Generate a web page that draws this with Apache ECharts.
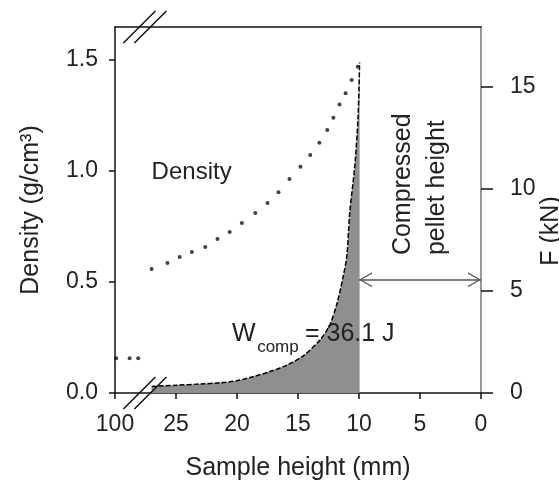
<!DOCTYPE html>
<html>
<head lang="en">
    <meta charset="UTF-8">
    <title>Compression curve</title>
    <style>
        html, body {margin:0; padding:0; background:#fff;}
        #main {width:559px; height:486px;}
    </style>
</head>
<body>
<div id="main"></div>

<script src="https://cdn.jsdelivr.net/npm/echarts@6/dist/echarts.min.js"></script>
<script>
    // sample height (mm) -> density (g/cm3), dots.
    // the x axis is cut: axis value 30 stands for 100 mm (left of the break)
    var densityH = [29.9, 28.8, 28.1,
        27.0, 25.7, 24.7, 23.7, 22.6, 21.6, 20.6, 19.6, 18.5, 17.5, 16.6,
        15.7, 14.8, 14.0, 13.25, 12.6, 12.1, 11.6, 11.1, 10.6, 10.1];
    var densityVal = [0.157, 0.157, 0.157,
        0.559, 0.586, 0.613, 0.635, 0.658, 0.694, 0.725, 0.766, 0.811, 0.856, 0.905,
        0.964, 1.019, 1.072, 1.128, 1.185, 1.24, 1.30, 1.35, 1.41, 1.47];

    // sample height (mm) -> compression force F (kN)
    var forceH = [27.0, 25.0, 23.0, 21.4, 20.0, 18.7, 17.3, 15.9, 14.6, 13.2,
        12.4, 11.8, 11.3, 11.0, 10.75, 10.35, 10.08, 9.95];
    var forceVal = [0.32, 0.38, 0.44, 0.50, 0.60, 0.80, 1.05, 1.37, 1.81, 2.60,
        3.33, 4.40, 5.70, 6.70, 8.9, 11.1, 13.5, 16.2];

    var xTicks = [0, 5, 10, 15, 20, 25, 30];
    var xTickText = ['0', '5', '10', '15', '20', '25', '100'];
    var densityTicks = [0, 0.5, 1.0, 1.5];
    var forceTicks = [0, 5, 10, 15];
    var pelletH = 10;      // compressed pellet height (mm)
    var workText = '= 36.1 J';

    var font = '"Liberation Sans", Arial, Helvetica, sans-serif';
    var ink = '#222';
    // open arrow head, tip sits on the centre of the symbol box
    var chevron = 'path://M5,-10 L5.01,-10 Z M0,10 L5,0 L10,10 L9,10 L5,1.8 L1,10 Z';

    function pairs(xs, ys) {
        var out = [];
        for (var i = 0; i < xs.length; i++) out.push([xs[i], ys[i]]);
        return out;
    }

    var myChart = echarts.init(document.getElementById('main'));

    var option = {
        backgroundColor: '#fff',
        animation: false,
        grid: {left: 115, right: 78, top: 27, bottom: 93, outerBoundsMode: 'none', containLabel: false},
        xAxis: [{
            type: 'value',
            inverse: true,
            min: 0,
            max: 30,
            name: 'Sample height (mm)',
            nameLocation: 'middle',
            nameGap: 63,
            nameMoveOverlap: false,
            nameTextStyle: {fontFamily: font, fontSize: 25, color: ink},
            axisLine: {onZero: false, lineStyle: {color: '#111', width: 1.5}},
            axisTick: {customValues: xTicks, length: 6, lineStyle: {color: '#111', width: 1.5}},
            axisLabel: {
                customValues: xTicks,
                margin: 20,
                fontFamily: font, fontSize: 23, color: ink,
                formatter: function (v) { return xTickText[xTicks.indexOf(v)]; }
            },
            splitLine: {show: false}
        }, {
            type: 'value',
            position: 'top',
            inverse: true,
            min: 0,
            max: 30,
            axisLine: {show: true, onZero: false, lineStyle: {color: '#111', width: 1.5}},
            axisTick: {show: false},
            axisLabel: {show: false},
            splitLine: {show: false}
        }],
        yAxis: [{
            type: 'value',
            position: 'left',
            min: 0,
            max: 1.649,
            name: 'Density (g/cm³)',
            nameLocation: 'middle',
            nameRotate: 90,
            nameGap: 71,
            nameMoveOverlap: false,
            nameTextStyle: {fontFamily: font, fontSize: 25, color: ink},
            axisLine: {show: true, onZero: false, lineStyle: {color: '#111', width: 1.5}},
            axisTick: {customValues: densityTicks, length: 6, lineStyle: {color: '#111', width: 1.5}},
            axisLabel: {
                customValues: densityTicks,
                margin: 17,
                fontFamily: font, fontSize: 23, color: ink,
                formatter: function (v) { return v.toFixed(1); }
            },
            splitLine: {show: false}
        }, {
            type: 'value',
            position: 'right',
            min: 0,
            max: 17.94,
            name: 'F (kN)',
            nameLocation: 'middle',
            nameRotate: 90,
            nameGap: 58,
            nameMoveOverlap: false,
            nameTextStyle: {fontFamily: font, fontSize: 25, color: ink, padding: [0, 42, 0, 0]},
            axisLine: {show: true, onZero: false, lineStyle: {color: '#777', width: 1.5}},
            axisTick: {show: true, customValues: forceTicks, length: 12, lineStyle: {color: '#111', width: 1.5}},
            axisLabel: {
                customValues: forceTicks,
                margin: 29,
                fontFamily: font, fontSize: 23, color: ink
            },
            splitLine: {show: false}
        }],
        series: [{
            name: 'F',
            type: 'line',
            yAxisIndex: 1,
            data: pairs(forceH, forceVal),
            smooth: 0.3,
            symbol: 'none',
            lineStyle: {color: '#000', width: 1.5, type: [5, 2]},
            areaStyle: {color: '#8f8f8f', opacity: 1},
            z: 2,
            markLine: {
                silent: true,
                symbol: [chevron, chevron],
                symbolSize: [15, 26],
                label: {show: false},
                lineStyle: {color: '#555', width: 1.5, type: 'solid'},
                data: [[{coord: [pelletH, 5.55]}, {coord: [0, 5.55]}]]
            }
        }, {
            name: 'Density',
            type: 'scatter',
            yAxisIndex: 0,
            data: pairs(densityH, densityVal),
            symbol: 'circle',
            symbolSize: 4,
            itemStyle: {color: '#111'},
            z: 3
        }]
    };
    myChart.setOption(option);

    function px(h, v, yIdx) {
        return myChart.convertToPixel({xAxisIndex: 0, yAxisIndex: yIdx}, [h, v]);
    }

    // axis break marks
    var breaks = [];
    [28.0, 27.1].forEach(function (h) {
        [0, 1.649].forEach(function (d) {
            var p = px(h, d, 0);
            breaks.push({
                type: 'line',
                shape: {x1: p[0] - 16, y1: p[1] + 16, x2: p[0] + 16, y2: p[1] - 16},
                style: {stroke: '#111', lineWidth: 1.5},
                z: 10
            });
        });
    });

    function label(p, text, size, extra) {
        var el = {
            type: 'text',
            x: p[0],
            y: p[1],
            style: {
                text: text,
                font: size + 'px ' + font,
                fill: ink,
                align: 'left',
                verticalAlign: 'middle'
            },
            z: 20
        };
        if (extra) {
            for (var k in extra) el[k] = extra[k];
        }
        return el;
    }

    var texts = [
        label(px(27.0, 0.995, 0), 'Density', 24),
        label(px(20.4, 2.89, 1), 'W', 25),
        label(px(18.35, 2.25, 1), 'comp', 17),
        label(px(14.43, 2.89, 1), workText, 25),
        label(px(5.0, 6.76, 1), 'Compressed\npellet height', 25, {rotation: Math.PI / 2})
    ];
    texts[4].style.lineHeight = 34;

    myChart.setOption({graphic: breaks.concat(texts)});
</script>
</body>
</html>
